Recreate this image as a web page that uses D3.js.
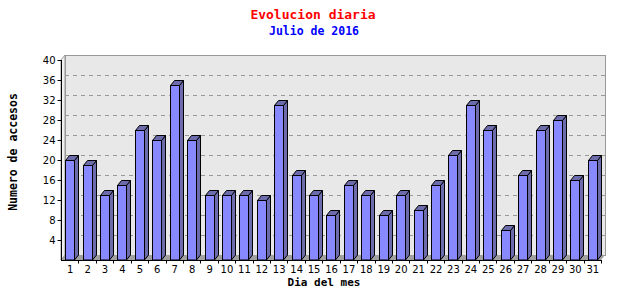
<!DOCTYPE html>
<html>
<head>
<meta charset="utf-8">
<script src="https://cdn.jsdelivr.net/npm/d3@7"></script>
<style>
  body { margin: 0; background: #fff; }
</style>
</head>
<body>
<div id="chart"></div>
<script>
// Size of the SVG
const w = 640;
const h = 300;

// Days of the month (categories)
const days = ["1","2","3","4","5","6","7","8","9","10","11","12","13","14","15","16",
              "17","18","19","20","21","22","23","24","25","26","27","28","29","30","31"];
// Visits per day
const visits = [20, 19, 13, 15, 26, 24, 35, 24, 13, 13, 13, 12, 31, 17, 13, 9,
                15, 13, 9, 13, 10, 15, 21, 31, 26, 6, 17, 26, 28, 16, 20];
// Tick labels on the y axis
const yTicks = [4, 8, 12, 16, 20, 24, 28, 32, 36, 40];

const titleText = "Evolucion diaria";
const subtitleText = "Julio de 2016";
const xTitle = "Dia del mes";
const yTitle = "Numero de accesos";

// Plot box and the 3D depth offset
const plotLeft = 61, plotRight = 601, plotTop = 60, plotBottom = 260;
const dx = 4, dy = 5;
const barW = 9;

const svg = d3.select("#chart")
  .append("svg")
  .attr("width", w)
  .attr("height", h);

const xScale = d3.scaleBand()
  .domain(days)
  .range([plotLeft, plotRight]);

const yScale = d3.scaleLinear()
  .domain([0, 40])
  .range([plotBottom, plotTop]);

// Left wall of the 3D box
svg.append("polygon")
  .attr("points", [[plotLeft, plotBottom], [plotLeft, plotTop], [plotLeft + dx, plotTop - dy], [plotLeft + dx, plotBottom - dy]].join(" "))
  .attr("fill", "#f0f0f0")
  .attr("stroke", "#999")
  .attr("stroke-width", 1);

// Back wall
svg.append("rect")
  .attr("x", plotLeft + dx + 0.5)
  .attr("y", plotTop - dy + 0.5)
  .attr("width", plotRight - plotLeft)
  .attr("height", plotBottom - plotTop)
  .attr("fill", "#e8e8e8")
  .attr("stroke", "#999");

// Floor
svg.append("polygon")
  .attr("points", [[plotLeft, plotBottom], [plotLeft + dx, plotBottom - dy], [plotRight + dx, plotBottom - dy], [plotRight, plotBottom]].join(" "))
  .attr("fill", "#a0a0a0");

// Dashed grid lines on the back wall
svg.append("g")
  .selectAll("line")
  .data(yTicks.filter(d => d < 40))
  .enter()
  .append("line")
  .attr("x1", plotLeft + dx)
  .attr("x2", plotRight + dx)
  .attr("y1", d => Math.round(yScale(d) - dy) + 0.5)
  .attr("y2", d => Math.round(yScale(d) - dy) + 0.5)
  .attr("stroke", "#999")
  .attr("stroke-dasharray", "4,4");

// Bars: side, top and front faces
const bars = svg.append("g")
  .selectAll("g")
  .data(days.map((d, i) => ({ day: d, value: visits[i] })))
  .enter()
  .append("g");

const x0 = d => Math.round(xScale(d.day) + xScale.bandwidth() / 2 - barW / 2) + 0.5;
const yT = d => Math.round(yScale(d.value)) + 0.5;

bars.append("polygon")
  .attr("points", d => [[x0(d) + barW, yT(d)], [x0(d) + barW + dx, yT(d) - dy],
                        [x0(d) + barW + dx, plotBottom - dy], [x0(d) + barW, plotBottom]].join(" "))
  .attr("fill", "#6c6cac")
  .attr("stroke", "#000");

bars.append("polygon")
  .attr("points", d => [[x0(d), yT(d)], [x0(d) + dx, yT(d) - dy],
                        [x0(d) + barW + dx, yT(d) - dy], [x0(d) + barW, yT(d)]].join(" "))
  .attr("fill", "#6c6cac")
  .attr("stroke", "#000");

bars.append("rect")
  .attr("x", x0)
  .attr("y", yT)
  .attr("width", barW)
  .attr("height", d => plotBottom - yT(d))
  .attr("fill", "#8888ff")
  .attr("stroke", "#000");

// X axis with ticks on the band edges
const xAxis = svg.append("g")
  .attr("transform", `translate(0, ${plotBottom + 0.5})`);
xAxis.append("line")
  .attr("x1", plotLeft).attr("x2", plotRight + 1)
  .attr("stroke", "#000");
xAxis.selectAll(".tick")
  .data(days)
  .enter()
  .append("line")
  .attr("x1", d => Math.round(xScale(d) + xScale.bandwidth()) + 0.5)
  .attr("x2", d => Math.round(xScale(d) + xScale.bandwidth()) + 0.5)
  .attr("y1", 0)
  .attr("y2", 3)
  .attr("stroke", "#000");
xAxis.selectAll("text")
  .data(days)
  .enter()
  .append("text")
  .attr("x", d => xScale(d) + xScale.bandwidth() / 2 + 0.5)
  .attr("y", 12)
  .attr("text-anchor", "middle")
  .style("font-family", "DejaVu Sans")
  .style("font-size", "10px")
  .text(d => d);

// Y axis
const yAxis = svg.append("g")
  .attr("transform", `translate(${plotLeft + 0.5}, 0)`);
yAxis.append("line")
  .attr("y1", plotTop).attr("y2", plotBottom)
  .attr("stroke", "#000");
yAxis.selectAll(".tick")
  .data(yTicks)
  .enter()
  .append("line")
  .attr("x1", -4)
  .attr("x2", 0)
  .attr("y1", d => Math.round(yScale(d)) + 0.5)
  .attr("y2", d => Math.round(yScale(d)) + 0.5)
  .attr("stroke", "#000");
yAxis.selectAll("text")
  .data(yTicks)
  .enter()
  .append("text")
  .attr("x", -6)
  .attr("y", d => yScale(d) + 3.5)
  .attr("text-anchor", "end")
  .style("font-family", "DejaVu Sans")
  .style("font-size", "10px")
  .text(d => d);

// Titles
svg.append("text")
  .attr("x", 313).attr("y", 19)
  .attr("text-anchor", "middle")
  .attr("fill", "#ff0000")
  .style("font-family", "DejaVu Sans Mono")
  .style("font-weight", "bold")
  .style("font-size", "13px")
  .text(titleText);

svg.append("text")
  .attr("x", 314).attr("y", 35)
  .attr("text-anchor", "middle")
  .attr("fill", "#0000ff")
  .style("font-family", "DejaVu Sans Mono")
  .style("font-weight", "bold")
  .style("font-size", "11.5px")
  .text(subtitleText);

svg.append("text")
  .attr("x", 324).attr("y", 286)
  .attr("text-anchor", "middle")
  .style("font-family", "DejaVu Sans Mono")
  .style("font-weight", "bold")
  .style("font-size", "11px")
  .text(xTitle);

svg.append("text")
  .attr("transform", "translate(17, 152) rotate(-90)")
  .attr("text-anchor", "middle")
  .style("font-family", "DejaVu Sans Mono")
  .style("font-weight", "bold")
  .style("font-size", "11.5px")
  .text(yTitle);
</script>
</body>
</html>
